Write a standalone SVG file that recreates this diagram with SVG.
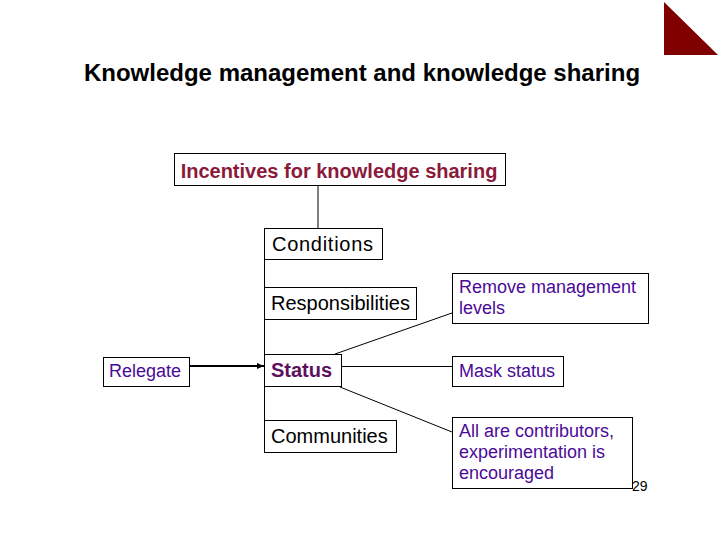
<svg xmlns="http://www.w3.org/2000/svg" width="720" height="540" viewBox="0 0 720 540">
<style>
.box{fill:#fff;stroke:#000;stroke-width:1}
.t{font-family:"Liberation Sans",Arial,sans-serif;font-size:20px;fill:#000}
.p{font-family:"Liberation Sans",Arial,sans-serif;font-size:18px;fill:#4b0a99}
.ln{stroke:#000;stroke-width:1;fill:none}
</style>
<defs>
<marker id="ah" markerWidth="8" markerHeight="8" refX="7" refY="4" orient="auto" markerUnits="userSpaceOnUse">
<path d="M0,1 L7,4 L0,7 Z" fill="#000"/>
</marker>
</defs>
<rect width="720" height="540" fill="#fff"/>
<polygon points="664,2 664,55 718,55" fill="#800000"/>
<text x="362" y="81" text-anchor="middle" font-family="Liberation Sans,Arial,sans-serif" font-size="24" font-weight="bold" fill="#000">Knowledge management and knowledge sharing</text>
<g id="connectors">
<line class="ln" x1="318" y1="185" x2="318" y2="228"/>
<line class="ln" x1="264.5" y1="260" x2="264.5" y2="452"/>
<line x1="189" y1="366" x2="264" y2="366" stroke="#000" stroke-width="2" marker-end="url(#ah)"/>
<line class="ln" x1="335" y1="354" x2="452" y2="313"/>
<line class="ln" x1="341" y1="366.5" x2="452" y2="366.5"/>
<line class="ln" x1="340" y1="387" x2="452" y2="432"/>
</g>
<g id="incentives">
<rect class="box" x="174.5" y="153.5" width="331" height="32"/>
<text x="339" y="178" text-anchor="middle" font-family="Liberation Sans,Arial,sans-serif" font-size="20" font-weight="bold" fill="#8b1a3a">Incentives for knowledge sharing</text>
</g>
<g id="conditions">
<rect class="box" x="264.5" y="228.5" width="118" height="31"/>
<text class="t" x="272" y="251" textLength="101" lengthAdjust="spacing">Conditions</text>
</g>
<g id="responsibilities">
<rect class="box" x="264.5" y="287.5" width="152" height="32"/>
<text class="t" x="271" y="310">Responsibilities</text>
</g>
<g id="status">
<rect class="box" x="264.5" y="354.5" width="77" height="32"/>
<text x="271" y="377" font-family="Liberation Sans,Arial,sans-serif" font-size="20" font-weight="bold" fill="#5e1060">Status</text>
</g>
<g id="communities">
<rect class="box" x="264.5" y="420.5" width="132" height="32"/>
<text class="t" x="271" y="443">Communities</text>
</g>
<g id="relegate">
<rect class="box" x="103.5" y="357.5" width="86" height="29"/>
<text class="p" x="109" y="377">Relegate</text>
</g>
<g id="remove">
<rect class="box" x="452.5" y="273.5" width="196" height="50"/>
<text class="p" x="459" y="293">Remove management</text>
<text class="p" x="459" y="314">levels</text>
</g>
<g id="mask">
<rect class="box" x="452.5" y="356.5" width="111" height="30"/>
<text class="p" x="459" y="377">Mask status</text>
</g>
<g id="contributors">
<rect class="box" x="452.5" y="417.5" width="180" height="71"/>
<text class="p" x="459" y="437">All are contributors,</text>
<text class="p" x="459" y="458">experimentation is</text>
<text class="p" x="459" y="479">encouraged</text>
</g>
<text x="632" y="491" font-family="Liberation Sans,Arial,sans-serif" font-size="14" fill="#000">29</text>
</svg>
